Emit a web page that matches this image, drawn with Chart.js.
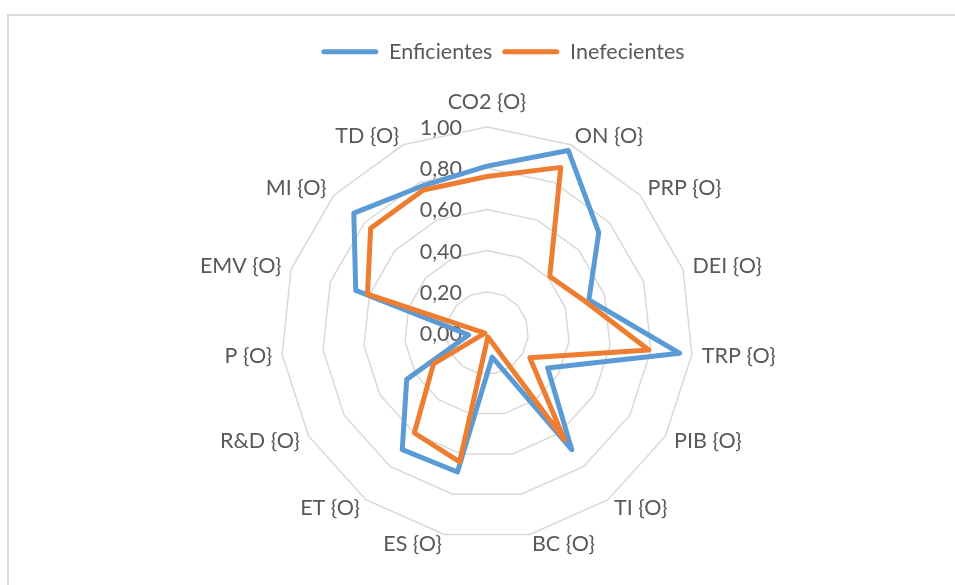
<!DOCTYPE html>
<html>
<head>
<meta charset="utf-8">
<script src="https://cdn.jsdelivr.net/npm/chart.js@4/dist/chart.umd.min.js"></script>
<style>
  html, body { margin: 0; padding: 0; background: #fff; overflow: hidden; }
  #frame { position: absolute; left: 7px; top: 14px; width: 1000px; height: 700px;
           border-left: 2px solid #d9d9d9; border-top: 2px solid #d9d9d9; }
  #box { position: absolute; left: 0; top: 0; width: 955px; height: 600px; }
</style>
</head>
<body>
<div id="frame"></div>
<div id="box"><canvas id="myChart"></canvas></div>
<script>
const categorias = ['CO2 {O}', 'ON {O}', 'PRP {O}', 'DEI {O}', 'TRP {O}', 'PIB {O}', 'TI {O}',
    'BC {O}', 'ES {O}', 'ET {O}', 'R&D {O}', 'P {O}', 'EMV {O}', 'MI {O}', 'TD {O}'];
const eficientes = [0.81, 0.97, 0.73, 0.52, 0.94, 0.34, 0.70, 0.12, 0.69, 0.70, 0.45, 0.09, 0.67, 0.87, 0.78];
const ineficientes = [0.76, 0.88, 0.41, 0.50, 0.79, 0.24, 0.64, 0.02, 0.64, 0.60, 0.30, 0.01, 0.61, 0.76, 0.76];
const tickValues = [0, 0.2, 0.4, 0.6, 0.8, 1.0];

const fuente = 'Lato';
const tam = 21.5;
const gris = '#595959';

// etiquetas de eje y de categorias dibujadas como en Excel
const etiquetas = {
    id: 'etiquetas',
    afterLayout(chart) {
        chart.legend.left += 16;
        chart.legend.right += 16;
    },
    beforeDatasetsDraw(chart) {
        const s = chart.scales.r;
        const ctx = chart.ctx;
        ctx.save();
        ctx.font = tam + 'px ' + fuente;
        ctx.fillStyle = gris;
        ctx.textAlign = 'right';
        ctx.textBaseline = 'middle';
        tickValues.forEach(v => {
            const y = s.yCenter - s.getDistanceFromCenterForValue(v) + 1;
            ctx.fillText(v.toFixed(2).replace('.', ','), s.xCenter - 25, y);
        });
        ctx.restore();
    },
    afterDraw(chart) {
        const s = chart.scales.r;
        const ctx = chart.ctx;
        const n = categorias.length;
        ctx.save();
        ctx.font = tam + 'px ' + fuente;
        ctx.fillStyle = gris;
        categorias.forEach((c, i) => {
            const ang = i * 360 / n;
            const p = s.getPointPosition(i, s.drawingArea + (i === 0 ? 14 : 10));
            if (ang === 0) {
                ctx.textAlign = 'center';
                ctx.textBaseline = 'bottom';
            } else {
                ctx.textAlign = ang < 180 ? 'left' : 'right';
                ctx.textBaseline = 'middle';
            }
            ctx.fillText(c, p.x, p.y);
        });
        ctx.restore();
    }
};

const ctx = document.getElementById('myChart').getContext('2d');
new Chart(ctx, {
    type: 'radar',
    data: {
        labels: categorias,
        datasets: [
            {
                label: 'Enficientes',
                data: eficientes,
                borderColor: '#5b9bd5',
                backgroundColor: '#5b9bd5',
                borderWidth: 5,
                borderJoinStyle: 'round',
                pointRadius: 0,
                fill: false,
                order: 2
            },
            {
                label: 'Inefecientes',
                data: ineficientes,
                borderColor: '#ed7d31',
                backgroundColor: '#ed7d31',
                borderWidth: 5,
                borderJoinStyle: 'round',
                pointRadius: 0,
                fill: false,
                order: 1
            }
        ]
    },
    options: {
        responsive: true,
        maintainAspectRatio: false,
        animation: false,
        layout: {
            padding: { top: 31, left: 281, right: 262, bottom: 6 }
        },
        plugins: {
            tooltip: { enabled: false },
            legend: {
                position: 'top',
                labels: {
                    boxWidth: 57,
                    boxHeight: 5,
                    padding: 10,
                    color: gris,
                    font: { family: fuente, size: tam },
                    sort: (a, b) => a.datasetIndex - b.datasetIndex,
                    generateLabels(chart) {
                        const items = Chart.defaults.plugins.legend.labels.generateLabels(chart);
                        items.forEach(it => { it.lineWidth = 0; it.borderRadius = 2.5; });
                        return items;
                    },
                    useBorderRadius: true,
                    borderRadius: 2.5
                }
            }
        },
        scales: {
            r: {
                min: 0,
                max: 1,
                ticks: { display: false, stepSize: 0.2 },
                pointLabels: { display: false },
                angleLines: { display: false },
                grid: { color: '#d9d9d9', lineWidth: 1.5 }
            }
        }
    },
    plugins: [etiquetas]
});
</script>
</body>
</html>
